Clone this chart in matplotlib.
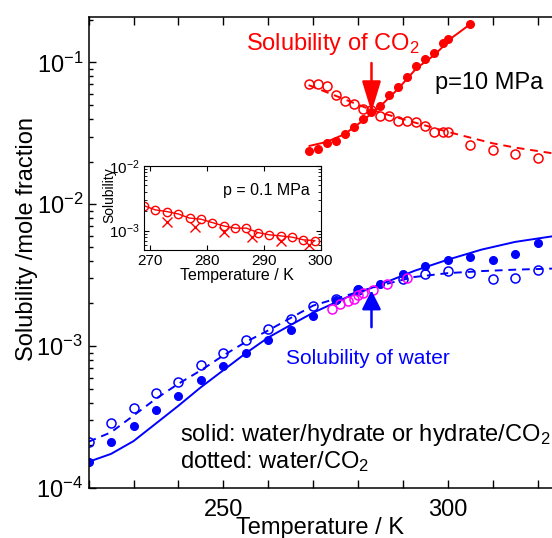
import matplotlib
matplotlib.use("Agg")
import matplotlib.pyplot as plt
from matplotlib.ticker import MultipleLocator, LogLocator, NullFormatter

plt.rcParams['font.family'] = ['Liberation Sans', 'DejaVu Sans']
plt.rcParams['mathtext.fontset'] = 'custom'
plt.rcParams['mathtext.rm'] = 'Liberation Sans'
plt.rcParams['mathtext.it'] = 'Liberation Sans:italic'
plt.rcParams['mathtext.bf'] = 'Liberation Sans:bold'

# --- solubility of water in CO2 (blue) ---
T_w_hyd = [220, 225, 230, 235, 240, 245, 250, 255, 260, 265, 270, 275, 280, 285,
           290, 295, 300, 305, 310, 315, 320]
x_w_hyd = [1.53e-4, 2.11e-4, 2.75e-4, 3.56e-4, 4.42e-4, 5.78e-4, 7.19e-4, 8.93e-4,
           1.10e-3, 1.29e-3, 1.63e-3, 2.10e-3, 2.54e-3, 2.75e-3, 3.21e-3, 3.65e-3,
           4.07e-3, 4.25e-3, 4.07e-3, 4.49e-3, 5.37e-3]
T_w_liq = [220, 225, 230, 235, 240, 245, 250, 255, 260, 265, 270, 275, 280,
           290, 295, 300, 305, 310, 315, 320]
x_w_liq = [2.12e-4, 2.86e-4, 3.67e-4, 4.66e-4, 5.62e-4, 7.31e-4, 8.93e-4, 1.10e-3,
           1.33e-3, 1.56e-3, 1.91e-3, 2.16e-3, 2.50e-3, 2.96e-3, 3.21e-3, 3.38e-3,
           3.29e-3, 2.96e-3, 3.04e-3, 3.42e-3]
T_w_exp = [274.1, 276.0, 277.8, 279.0, 280.1, 281.2, 283.4, 286.5, 290.8]
x_w_exp = [1.84e-3, 1.99e-3, 2.08e-3, 2.16e-3, 2.28e-3, 2.37e-3, 2.50e-3, 2.75e-3, 3.04e-3]

T_w_fit = [220, 225, 230, 235, 240, 245, 250, 255, 260, 265, 270, 277.5, 285,
           292.5, 300, 307.5, 315, 323.2]
x_w_solid = [1.53e-4, 1.74e-4, 2.14e-4, 2.85e-4, 3.80e-4, 5.13e-4, 6.76e-4, 8.91e-4,
             1.15e-3, 1.41e-3, 1.72e-3, 2.21e-3, 2.72e-3, 3.39e-3, 4.07e-3, 4.79e-3,
             5.43e-3, 5.94e-3]
x_w_dotted = [2.12e-4, 2.47e-4, 3.24e-4, 4.26e-4, 5.43e-4, 6.75e-4, 8.59e-4, 1.07e-3,
              1.29e-3, 1.58e-3, 1.93e-3, 2.28e-3, 2.68e-3, 3.07e-3, 3.27e-3, 3.38e-3,
              3.46e-3, 3.52e-3]

# --- solubility of CO2 in water (red) ---
T_c_hyd = [269, 271, 273, 275, 277, 279, 281, 283, 285, 287, 289, 291, 293, 295,
           297, 299, 300, 305]
x_c_hyd = [0.0238, 0.0244, 0.0271, 0.0280, 0.0312, 0.0352, 0.0396, 0.0447, 0.0492,
           0.0594, 0.0667, 0.0791, 0.0942, 0.105, 0.1156, 0.136, 0.146, 0.186]
T_c_hyd_fit = [269.2, 273, 277, 281, 285, 289, 293, 297, 301, 305]
x_c_hyd_fit = [0.0258, 0.0275, 0.0312, 0.0387, 0.0492, 0.0655, 0.0908, 0.1127, 0.150, 0.186]

T_c_liq = [269, 271, 273, 275, 277, 279, 281, 283, 285, 287, 289, 291, 293, 295,
           297, 299, 300, 305, 310, 315, 320]
x_c_liq = [0.0703, 0.0703, 0.0681, 0.0587, 0.0536, 0.0506, 0.0473, 0.0460, 0.0420,
           0.0418, 0.0387, 0.0387, 0.0381, 0.0357, 0.0324, 0.0324, 0.0321, 0.0261,
           0.0243, 0.0225, 0.0212]
T_c_liq_fit = [269, 275, 283, 290, 295, 300, 305, 310, 315, 323.2]
x_c_liq_fit = [0.0692, 0.0582, 0.0462, 0.0398, 0.0359, 0.0324, 0.0295, 0.0269,
               0.0251, 0.0229]

# --- inset, p = 0.1 MPa ---
T_in = [269, 271, 273, 275, 277, 279, 281, 283, 285, 287, 289, 291, 293, 295, 297, 299]
x_in = [2.43e-3, 2.09e-3, 1.97e-3, 1.81e-3, 1.56e-3, 1.50e-3, 1.33e-3, 1.18e-3,
        1.09e-3, 1.09e-3, 9.31e-4, 8.59e-4, 8.28e-4, 7.91e-4, 7.18e-4, 7.00e-4]
T_in_exp = [273, 278, 283, 288, 293, 298]
x_in_exp = [1.38e-3, 1.14e-3, 9.66e-4, 8.0e-4, 6.98e-4, 6.01e-4]

T_arrow = 283
arrow_co2 = (0.099, 0.0446)
arrow_w = (1.36e-3, 2.47e-3)

W, H = 552, 538
fig = plt.figure(figsize=(W / 100, H / 100), dpi=100)
ax = fig.add_axes([88.6 / W, 1 - 488 / H, (W - 88.6) / W, (488 - 16.7) / H])

blue, red, mag = '#0000ff', '#ff0000', '#ff00ff'
dash = (0, (4, 3))

ax.plot(T_w_fit, x_w_solid, color=blue, lw=1.4)
ax.plot(T_w_fit, x_w_dotted, color=blue, lw=1.4, ls=dash)
ax.plot(T_w_hyd, x_w_hyd, 'o', color=blue, ms=5.5)
ax.plot(T_w_liq, x_w_liq, 'o', mfc='none', mec=blue, ms=6.5, mew=1.1)
ax.plot(T_w_exp, x_w_exp, 'o', mfc='none', mec=mag, ms=6.5, mew=1.1)

ax.plot(T_c_hyd_fit, x_c_hyd_fit, color=red, lw=1.4)
ax.plot(T_c_liq_fit, x_c_liq_fit, color=red, lw=1.4, ls=dash)
ax.plot(T_c_hyd, x_c_hyd, 'o', color=red, ms=5.5)
ax.plot(T_c_liq, x_c_liq, 'o', mfc='none', mec=red, ms=6.5, mew=1.1)

ax.annotate('', xy=(T_arrow, arrow_co2[1]), xytext=(T_arrow, arrow_co2[0]),
            arrowprops=dict(arrowstyle='-|>,head_length=1.9,head_width=0.58',
                            mutation_scale=10, color=red, lw=1.8,
                            shrinkA=0, shrinkB=0))
ax.annotate('', xy=(T_arrow, arrow_w[1]), xytext=(T_arrow, arrow_w[0]),
            arrowprops=dict(arrowstyle='-|>,head_length=1.15,head_width=0.58',
                            mutation_scale=10, color=blue, lw=1.8,
                            shrinkA=0, shrinkB=0))

ax.set_yscale('log')
ax.set_xlim(220, 323.2)
ax.set_ylim(1e-4, 0.21)
ax.xaxis.set_major_locator(MultipleLocator(50))
ax.xaxis.set_minor_locator(MultipleLocator(10))
ax.yaxis.set_major_locator(LogLocator(base=10, numticks=10))
ax.yaxis.set_minor_locator(LogLocator(base=10, subs=range(2, 10), numticks=20))
ax.yaxis.set_minor_formatter(NullFormatter())
ax.tick_params(axis='x', which='both', direction='in', top=True, length=5.5,
               width=1, labelsize=17, pad=8)
ax.tick_params(axis='y', which='major', direction='in', length=5, width=1,
               labelsize=17, pad=4)
ax.tick_params(axis='y', which='minor', direction='in', length=3, width=1)
ax.spines['right'].set_visible(False)
for s in ['left', 'top', 'bottom']:
    ax.spines[s].set_linewidth(1.1)

ax.set_xlabel('Temperature / K', fontsize=17)
ax.xaxis.set_label_coords(0.4994, -0.062)
ax.set_ylabel('Solubility /mole fraction', fontsize=17)
ax.yaxis.set_label_coords(-0.109, 0.529)

ax.text(0.5275, 0.9412, 'Solubility of CO$_2$', color=red, fontsize=17,
        ha='center', va='center', transform=ax.transAxes)
ax.text(0.8641, 0.8584, 'p=10 MPa', color='black', fontsize=17,
        ha='center', va='center', transform=ax.transAxes)
ax.text(0.6029, 0.2758, 'Solubility of water', color=blue, fontsize=15,
        ha='center', va='center', transform=ax.transAxes)
ax.text(0.1972, 0.1125, 'solid: water/hydrate or hydrate/CO$_2$', fontsize=17,
        ha='left', va='center', transform=ax.transAxes)
ax.text(0.1972, 0.0552, 'dotted: water/CO$_2$', fontsize=17,
        ha='left', va='center', transform=ax.transAxes)

# inset
axi = fig.add_axes([144 / W, 1 - 250 / H, 176.5 / W, 84 / H])
axi.plot(T_in, x_in, '-o', color=red, mfc='none', mec=red, ms=6, mew=1, lw=1)
axi.plot(T_in_exp, x_in_exp, 'x', color=red, ms=7, mew=1)
axi.set_yscale('log')
axi.set_xlim(269, 300)
axi.set_ylim(5e-4, 1e-2)
axi.xaxis.set_major_locator(MultipleLocator(10))
axi.yaxis.set_minor_formatter(NullFormatter())
axi.tick_params(which='both', direction='in', top=True, right=True, labelsize=11, pad=3)
axi.tick_params(which='major', length=3.5)
axi.tick_params(which='minor', length=2)
axi.set_xlabel('Temperature / K', fontsize=11.5)
axi.xaxis.set_label_coords(0.525, -0.214)
axi.set_ylabel('Solubility', fontsize=10)
axi.yaxis.set_label_coords(-0.159, 0.655)
axi.text(0.694, 0.714, 'p = 0.1 MPa', fontsize=11.5, ha='center', va='center',
         transform=axi.transAxes)

fig.savefig('out.png', dpi=100)
